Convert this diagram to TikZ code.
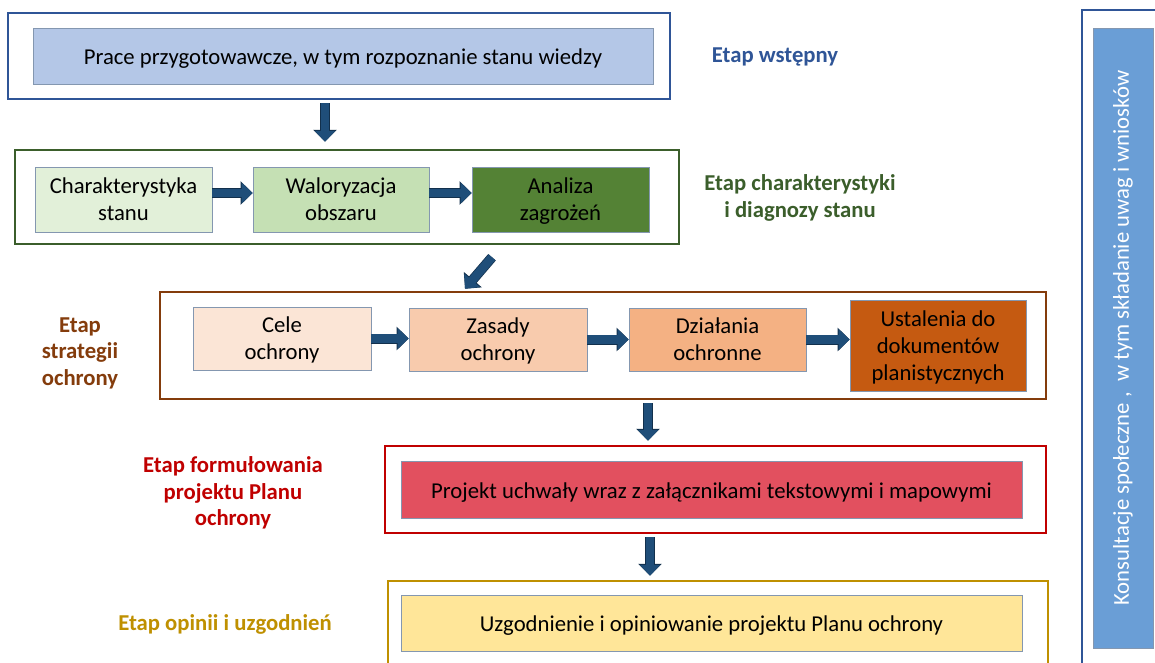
\documentclass[tikz,border=0pt]{standalone}
\usepackage{fontspec}
\setmainfont{Carlito}
\usetikzlibrary{arrows.meta,calc}
\newcommand{\nodepth}[1]{\raisebox{0pt}[\height][0pt]{#1}}
\definecolor{bluedge}{HTML}{2F5597}
\definecolor{bluefill}{HTML}{B4C7E7}
\definecolor{innerline}{HTML}{8497B0}
\definecolor{greenedge}{HTML}{3B5E2B}
\definecolor{greenA}{HTML}{E2F0D9}
\definecolor{greenB}{HTML}{C5E0B4}
\definecolor{greenC}{HTML}{548235}
\definecolor{brownedge}{HTML}{843C0C}
\definecolor{orA}{HTML}{FBE5D6}
\definecolor{orB}{HTML}{F8CBAD}
\definecolor{orC}{HTML}{F4B183}
\definecolor{orD}{HTML}{C55A11}
\definecolor{rededge}{HTML}{C00000}
\definecolor{redfill}{HTML}{E2505F}
\definecolor{goldedge}{HTML}{BF9000}
\definecolor{goldfill}{HTML}{FFE699}
\definecolor{sidefill}{HTML}{6A9ED6}
\definecolor{arrowc}{HTML}{1F4E79}
\definecolor{arrowedge}{HTML}{12304C}
\tikzset{
  outerbox/.style={draw=#1, line width=2.5pt, fill=white, inner sep=0pt},
  innerbox/.style={draw=innerline, line width=0.8pt, fill=#1, inner sep=0pt, align=center,
    font=\fontsize{22.7}{27}\selectfont, text=black},
  oneline/.style={text height=19pt, text depth=2pt},
  stagelabel/.style={text=#1, align=center, font=\fontsize{22.7}{26.5}\selectfont\bfseries},
  blk/.style={line width=8.5pt, draw=arrowc, -{Triangle[width=20pt,length=11pt]},
    preaction={draw=arrowedge, line width=10pt, -{Triangle[width=23pt,length=12pt]}}},
}
\begin{document}
\begin{tikzpicture}[x=1pt,y=-1pt]
\clip (0,0) rectangle (1155,662);
\fill[white] (0,0) rectangle (1155,662);

% Stage 1
\node[outerbox=bluedge, minimum width=662, minimum height=86] (o1) at (339,56) {};
\node[innerbox=bluefill, oneline, minimum width=620, minimum height=56] (i1) at (343,56)
  {Prace przygotowawcze, w tym rozpoznanie stanu wiedzy};
\node[stagelabel=bluedge] (l1) at (775,57) {Etap wstępny};

% Stage 2
\node[outerbox=greenedge, minimum width=664, minimum height=94] (o2) at (347,197) {};
\node[innerbox=greenA, minimum width=177, minimum height=65] (c1) at (123.5,199.5)
  {Charakterystyka\\stanu};
\node[innerbox=greenB, minimum width=176, minimum height=65] (c2) at (341,199.5)
  {Waloryzacja\\obszaru};
\node[innerbox=greenC, minimum width=177, minimum height=65] (c3) at (560.5,199.5)
  {Analiza\\\nodepth{zagrożeń}};
\node[stagelabel=greenedge] (l2) at (800,198) {Etap charakterystyki\\i diagnozy stanu};

% Stage 3
\node[outerbox=brownedge, minimum width=886, minimum height=107] (o3) at (603,345.5) {};
\node[innerbox=orA, minimum width=178, minimum height=63] (s1) at (282,338.5)
  {Cele\\\nodepth{ochrony}};
\node[innerbox=orB, minimum width=178, minimum height=63] (s2) at (498,339.5)
  {Zasady\\\nodepth{ochrony}};
\node[innerbox=orC, minimum width=177, minimum height=63] (s3) at (717.5,339.5)
  {Działania\\ochronne};
\node[innerbox=orD, minimum width=176, minimum height=91] (s4) at (938,345.5)
  {Ustalenia do\\dokumentów\\\nodepth{planistycznych}};
\node[stagelabel=brownedge] (l3) at (80,353) {Etap\\strategii\\ochrony};

% Stage 4
\node[outerbox=rededge, minimum width=661, minimum height=87] (o4) at (715.5,489.5) {};
\node[innerbox=redfill, oneline, minimum width=621, minimum height=57] (p1) at (711.5,489.5)
  {Projekt uchwały wraz z załącznikami tekstowymi i mapowymi};
\node[stagelabel=rededge] (l4) at (233,493) {Etap formułowania\\projektu Planu\\ochrony};

% Stage 5
\node[outerbox=goldedge, minimum width=660, minimum height=109] (o5) at (718,635.5) {};
\node[innerbox=goldfill, oneline, minimum width=621, minimum height=56] (u1) at (711.5,623)
  {Uzgodnienie i opiniowanie projektu Planu ochrony};
\node[stagelabel=goldedge] (l5) at (225,624) {Etap opinii i uzgodnień};

% Side bar
\node[outerbox=bluedge, minimum width=98, minimum height=690] (r0) at (1131,355) {};
\node[draw=innerline, line width=0.8pt, fill=sidefill, inner sep=0pt,
  minimum width=60, minimum height=620] (r1) at (1123,338) {};
\node[rotate=90, text=white, font=\fontsize{22.7}{27}\selectfont] (rt) at (r1.center)
  {Konsultacje społeczne ,\ \ w tym składanie uwag i wniosków};

% Arrows between stages
\draw[blk] ([xshift=-14pt,yshift=-3pt]o1.south) -- ([xshift=-22pt,yshift=7pt]o2.north);
\draw[blk] ([xshift=145pt,yshift=-12pt]o2.south) -- ([xshift=-138pt,yshift=2pt]o3.north);
\draw[blk] ([xshift=45pt,yshift=-3pt]o3.south) -- ([xshift=-67.5pt,yshift=4pt]o4.north);
\draw[blk] ([xshift=-65.5pt,yshift=-3pt]o4.south) -- ([xshift=-68pt,yshift=4pt]o5.north);

% Arrows within stages
\draw[blk] ([yshift=6.5pt]c1.east) -- ([yshift=6.5pt]c2.west);
\draw[blk] ([yshift=6.5pt]c2.east) -- ([yshift=6.5pt]c3.west);
\draw[blk] (s1.east) -- (s1.east -| s2.west);
\draw[blk] (s2.east) -- (s3.west);
\draw[blk] (s3.east) -- (s3.east -| s4.west);
\end{tikzpicture}
\end{document}
